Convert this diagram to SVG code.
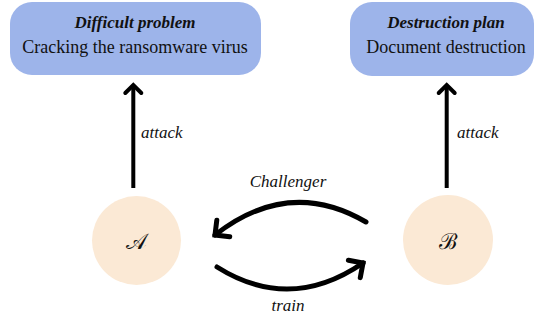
<svg xmlns="http://www.w3.org/2000/svg" width="538" height="320" viewBox="0 0 538 320">
<style>
.box{fill:#9db4ea;}
.circ{fill:#fbe9d5;}
.t{font-family:'Liberation Serif','DejaVu Serif',serif;fill:#111;text-anchor:middle;}
.h{font-size:17px;font-weight:bold;font-style:italic;}
.b{font-size:18px;}
.lab{font-family:'Liberation Serif','DejaVu Serif',serif;font-style:italic;font-size:17px;fill:#111;}
.sym{font-family:'DejaVu Serif','Liberation Serif',serif;font-size:22px;fill:#111;text-anchor:middle;}
.v{fill:none;stroke:#000;stroke-width:4;}
.c{fill:none;stroke:#000;stroke-width:5;stroke-linecap:round;}
</style>
<defs>
<marker id="ah" markerUnits="userSpaceOnUse" markerWidth="30" markerHeight="30" refX="0" refY="0" viewBox="-15 -15 30 30" orient="auto" overflow="visible">
<path d="M-8,-8 L0,0 L-8,8" fill="none" stroke="#000" stroke-width="4" stroke-linecap="round" stroke-linejoin="miter"/>
</marker>
<marker id="ahc" markerUnits="userSpaceOnUse" markerWidth="30" markerHeight="30" refX="0" refY="0" viewBox="-15 -15 30 30" orient="auto" overflow="visible">
<path d="M-10.5,-10.5 L0,0 L-10.5,10.5" fill="none" stroke="#000" stroke-width="5" stroke-linecap="round" stroke-linejoin="miter"/>
</marker>
</defs>
<g id="problem">
<rect class="box" x="10" y="2" width="251" height="73" rx="22"/>
<text class="t h" x="135" y="28">Difficult problem</text>
<text class="t b" x="135" y="53">Cracking the ransomware virus</text>
</g>
<g id="plan">
<rect class="box" x="350" y="2" width="184" height="74" rx="22"/>
<text class="t h" x="446" y="28">Destruction plan</text>
<text class="t b" x="446" y="53">Document destruction</text>
</g>
<g id="A">
<circle class="circ" cx="136.5" cy="240.5" r="44.5"/>
<text class="sym" x="136.5" y="249">𝒜</text>
</g>
<g id="B">
<circle class="circ" cx="448" cy="240" r="45"/>
<text class="sym" x="448" y="249">ℬ</text>
</g>
<g id="connectors">
<line class="v" x1="133.3" y1="188" x2="133.3" y2="85" marker-end="url(#ah)"/>
<line class="v" x1="446.7" y1="188" x2="446.7" y2="85" marker-end="url(#ah)"/>
<path class="c" d="M366,222 Q289,177 215,235" marker-end="url(#ahc)"/>
<path class="c" d="M217,267 Q290,313 363,263" marker-end="url(#ahc)"/>
<text class="lab" x="141" y="138">attack</text>
<text class="lab" x="457" y="138">attack</text>
<text class="lab" x="288" y="187" text-anchor="middle">Challenger</text>
<text class="lab" x="288" y="311" text-anchor="middle">train</text>
</g>
</svg>
